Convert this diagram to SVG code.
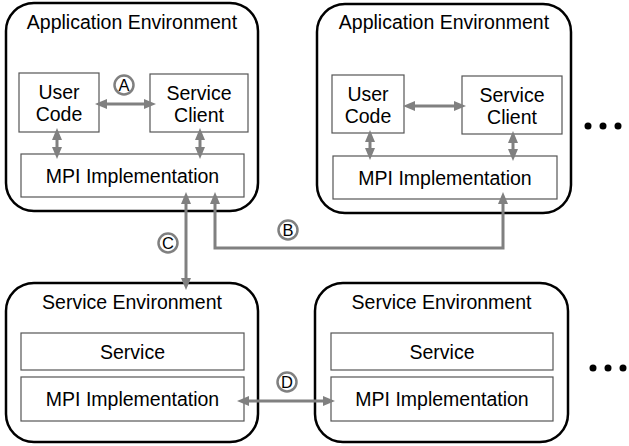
<svg xmlns="http://www.w3.org/2000/svg" width="629" height="446" viewBox="0 0 629 446">
<style>
.env{fill:#fff;stroke:#000;stroke-width:2.5}
.box{fill:#fff;stroke:#555;stroke-width:1.2}
.t{font-family:"Liberation Sans",Arial,sans-serif;font-size:19.5px;fill:#000;text-anchor:middle}
.lbl{font-family:"Liberation Sans",Arial,sans-serif;font-size:16.5px;fill:#000;text-anchor:middle}
.arr{fill:none;stroke:#808080;stroke-width:3;marker-start:url(#ah);marker-end:url(#ah)}
.circ{fill:#fff;stroke:#808080;stroke-width:2.5}
.dot{fill:#000}
</style>
<defs>
<marker id="ah" viewBox="0 0 12 10" refX="6" refY="5" markerWidth="12" markerHeight="10" markerUnits="userSpaceOnUse" orient="auto-start-reverse">
<path d="M0,0 L12,5 L0,10 z" fill="#808080"/>
</marker>
</defs>

<g id="app1">
<rect class="env" x="6" y="3" width="252" height="208" rx="28"/>
<text class="t" x="132" y="29">Application Environment</text>
<g id="app1-user"><rect class="box" x="19" y="73" width="80" height="59"/>
<text class="t" x="59" y="99">User</text><text class="t" x="59" y="121">Code</text></g>
<g id="app1-client"><rect class="box" x="150" y="74" width="98" height="58"/>
<text class="t" x="199" y="100">Service</text><text class="t" x="199" y="122">Client</text></g>
<g id="app1-mpi"><rect class="box" x="21" y="154" width="223" height="43"/>
<text class="t" x="132.5" y="182.5">MPI Implementation</text></g>
</g>

<g id="app2">
<rect class="env" x="317" y="4" width="254" height="209" rx="28"/>
<text class="t" x="444" y="29">Application Environment</text>
<g id="app2-user"><rect class="box" x="332" y="75" width="72" height="58"/>
<text class="t" x="368" y="101">User</text><text class="t" x="368" y="123">Code</text></g>
<g id="app2-client"><rect class="box" x="462" y="76" width="100" height="58"/>
<text class="t" x="512" y="102">Service</text><text class="t" x="512" y="124">Client</text></g>
<g id="app2-mpi"><rect class="box" x="333" y="156" width="224" height="43"/>
<text class="t" x="445" y="184.5">MPI Implementation</text></g>
</g>

<g id="svc1">
<rect class="env" x="6" y="283" width="252" height="159" rx="28"/>
<text class="t" x="132" y="309">Service Environment</text>
<g id="svc1-service"><rect class="box" x="21" y="333" width="223" height="37"/>
<text class="t" x="132.5" y="359">Service</text></g>
<g id="svc1-mpi"><rect class="box" x="21" y="377" width="223" height="44"/>
<text class="t" x="132.5" y="406">MPI Implementation</text></g>
</g>

<g id="svc2">
<rect class="env" x="315" y="283" width="253" height="159" rx="28"/>
<text class="t" x="441.5" y="309">Service Environment</text>
<g id="svc2-service"><rect class="box" x="331" y="333" width="222" height="37"/>
<text class="t" x="442" y="359">Service</text></g>
<g id="svc2-mpi"><rect class="box" x="331" y="377" width="222" height="44"/>
<text class="t" x="442" y="406">MPI Implementation</text></g>
</g>

<g id="connectors">
<line class="arr" x1="101" y1="104" x2="150" y2="104"/>
<line class="arr" x1="57" y1="134" x2="57" y2="153"/>
<line class="arr" x1="200" y1="134" x2="200" y2="153"/>
<line class="arr" x1="409" y1="106" x2="460" y2="106"/>
<line class="arr" x1="370" y1="136" x2="370" y2="154"/>
<line class="arr" x1="513" y1="137" x2="513" y2="155"/>
<line class="arr" x1="186" y1="198" x2="186" y2="284"/>
<path class="arr" d="M215,198 L215,248 L503,248 L503,198"/>
<line class="arr" x1="243" y1="401" x2="329" y2="401"/>
</g>

<g id="labels">
<circle class="circ" cx="124" cy="85" r="9.5"/><text class="lbl" x="124" y="91">A</text>
<circle class="circ" cx="288" cy="230" r="9.5"/><text class="lbl" x="288" y="236">B</text>
<circle class="circ" cx="168" cy="243" r="9.5"/><text class="lbl" x="168" y="249">C</text>
<circle class="circ" cx="287" cy="382" r="9.5"/><text class="lbl" x="287" y="388">D</text>
</g>

<g id="dots">
<circle class="dot" cx="588" cy="126" r="3.5"/><circle class="dot" cx="603" cy="126" r="3.5"/><circle class="dot" cx="618" cy="126" r="3.5"/>
<circle class="dot" cx="593" cy="368" r="3.5"/><circle class="dot" cx="608" cy="368" r="3.5"/><circle class="dot" cx="623" cy="368" r="3.5"/>
</g>
</svg>
